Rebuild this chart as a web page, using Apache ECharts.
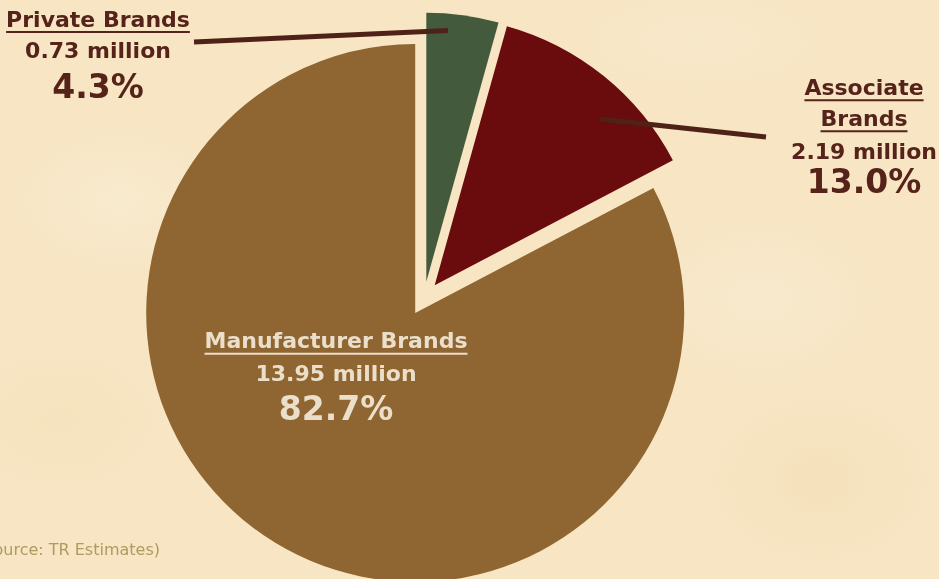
<!DOCTYPE html>
<html>
<head>
<meta charset="utf-8">
<script src="https://cdn.jsdelivr.net/npm/echarts@6/dist/echarts.min.js"></script>
<style>
html,body{margin:0;padding:0;}
body{
  width:939px;height:579px;overflow:hidden;
  background-color:#f7e5c3;
  background-image:
    radial-gradient(ellipse 180px 120px at 120px 200px, rgba(250,238,214,0.6), rgba(250,238,214,0) 70%),
    radial-gradient(ellipse 200px 140px at 760px 300px, rgba(250,238,216,0.5), rgba(250,238,216,0) 70%),
    radial-gradient(ellipse 160px 120px at 820px 480px, rgba(242,222,180,0.5), rgba(242,222,180,0) 70%),
    radial-gradient(ellipse 140px 100px at 60px 420px, rgba(244,224,184,0.5), rgba(244,224,184,0) 70%),
    radial-gradient(ellipse 220px 90px at 700px 40px, rgba(250,236,210,0.5), rgba(250,236,210,0) 70%);
}
#chart{width:939px;height:579px;}
</style>
</head>
<body>
<div id="chart"></div>
<script>
// ---- data ----
const categories = ['Private Brands', 'Associate Brands', 'Manufacturer Brands'];
const valuesMillion = [0.73, 2.19, 13.95];
const sliceColors = ['#445a3c', '#6a0b0d', '#8f6631'];
const sourceNote = '(Source: TR Estimates)';

// ---- label layout (presentation only) ----
const FONT = '"DejaVu Sans", Verdana, sans-serif';
const labelCfg = [
  { cx: 98,  nameBase: [29], valBase: 60, pctBase: 101.7, color: '#55231a', wrap: false,
    line: [[194, 42], [448, 30.5]] },
  { cx: 864, nameBase: [97.3, 128.3], valBase: 161.7, pctBase: 196.7, color: '#55231a', wrap: true,
    line: [[600, 119], [766, 137]] },
  { cx: 336, nameBase: [350.7], valBase: 383.3, pctBase: 423.3, color: '#ebdfcb', wrap: false,
    line: null }
];
const NAME_SIZE = 22, VAL_SIZE = 22, PCT_SIZE = 33;

const total = valuesMillion.reduce((a, b) => a + b, 0);

const measureCtx = document.createElement('canvas').getContext('2d');
function textWidth(str, size, weight) {
  measureCtx.font = weight + ' ' + size + 'px ' + FONT;
  return measureCtx.measureText(str).width;
}
function midFromBase(base, size) { return base - 0.36 * size; }

const graphics = [];
categories.forEach((name, i) => {
  const c = labelCfg[i];
  if (c.line) {
    graphics.push({
      type: 'line', z: 10,
      shape: { x1: c.line[0][0], y1: c.line[0][1], x2: c.line[1][0], y2: c.line[1][1] },
      style: { stroke: '#4f2218', lineWidth: 5 }
    });
  }
  const nameLines = c.wrap ? name.split(' ') : [name];
  nameLines.forEach((ln, k) => {
    const base = c.nameBase[k];
    graphics.push({
      type: 'text', z: 11,
      style: { text: ln, x: c.cx, y: midFromBase(base, NAME_SIZE), align: 'center', verticalAlign: 'middle',
               font: 'bold ' + NAME_SIZE + 'px ' + FONT, fill: c.color }
    });
    const w = textWidth(ln, NAME_SIZE, 'bold');
    graphics.push({
      type: 'rect', z: 11,
      shape: { x: c.cx - w / 2, y: base + 2, width: w, height: 2 },
      style: { fill: c.color }
    });
  });
  graphics.push({
    type: 'text', z: 11,
    style: { text: valuesMillion[i].toFixed(2) + ' million', x: c.cx, y: midFromBase(c.valBase, VAL_SIZE),
             align: 'center', verticalAlign: 'middle', font: 'bold ' + VAL_SIZE + 'px ' + FONT, fill: c.color }
  });
  graphics.push({
    type: 'text', z: 11,
    style: { text: (valuesMillion[i] / total * 100).toFixed(1) + '%', x: c.cx, y: midFromBase(c.pctBase, PCT_SIZE),
             align: 'center', verticalAlign: 'middle', font: 'bold ' + PCT_SIZE + 'px ' + FONT, fill: c.color }
  });
});
graphics.push({
  type: 'text', z: 11,
  style: { text: sourceNote, x: 160, y: midFromBase(556.7, 16), align: 'right', verticalAlign: 'middle',
           font: '16px ' + FONT, fill: '#b09a60' }
});

const chart = echarts.init(document.getElementById('chart'), null, { renderer: 'canvas' });
chart.setOption({
  backgroundColor: 'transparent',
  animation: false,
  series: [{
    type: 'pie',
    center: [424, 298.5],
    radius: 269,
    startAngle: 90,
    clockwise: true,
    selectedMode: 'multiple',
    selectedOffset: 17,
    label: { show: false },
    labelLine: { show: false },
    emphasis: { disabled: true },
    itemStyle: { borderWidth: 0 },
    data: categories.map((n, i) => ({
      name: n, value: valuesMillion[i], selected: true,
      itemStyle: { color: sliceColors[i] }
    }))
  }],
  graphic: graphics
});
</script>
</body>
</html>
